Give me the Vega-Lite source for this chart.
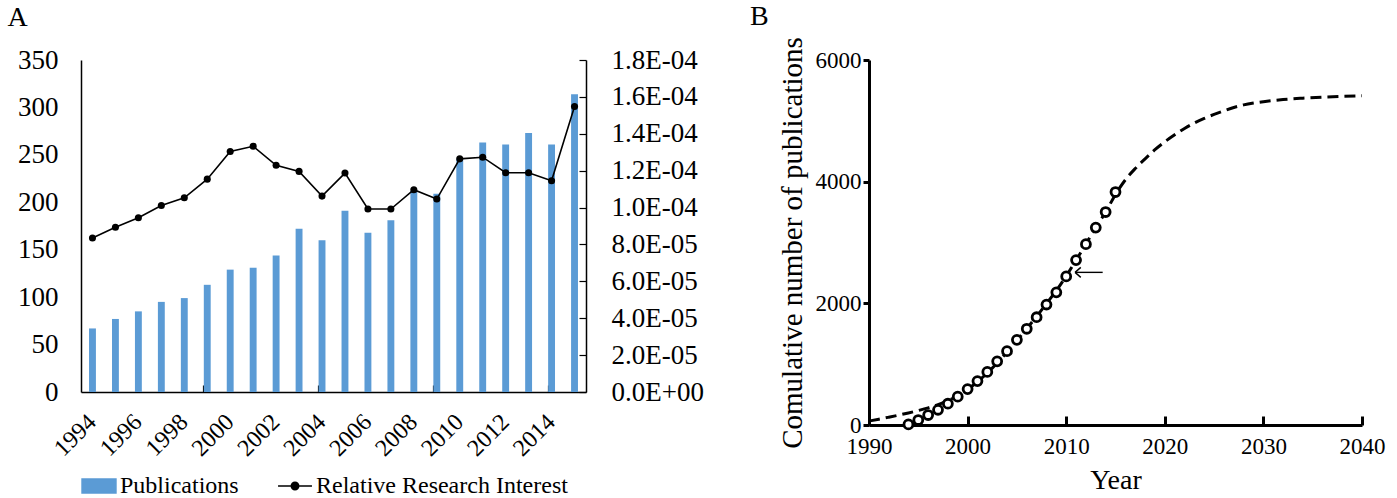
{
  "$schema": "https://vega.github.io/schema/vega-lite/v6.json",
  "padding": {"left": 7, "top": 2, "right": 5, "bottom": 0},
  "spacing": 46,
  "config": {
    "font": "Liberation Serif",
    "view": {"stroke": null},
    "axis": {"grid": false, "domainColor": "black", "tickColor": "black", "labelColor": "black", "titleColor": "black", "titleFontWeight": "normal"},
    "title": {"fontWeight": "normal", "color": "black"}
  },
  "hconcat": [
    {
      "width": 505,
      "height": 332,
      "title": {"text": "A", "anchor": "start", "frame": "bounds", "fontSize": 28, "dx": -10, "offset": 14},
      "data": {"values": [
        {"year": 1994, "pubs": 67, "rri": 0.0000835},
        {"year": 1995, "pubs": 77, "rri": 0.0000893},
        {"year": 1996, "pubs": 85, "rri": 0.0000945},
        {"year": 1997, "pubs": 95, "rri": 0.0001011},
        {"year": 1998, "pubs": 99, "rri": 0.0001053},
        {"year": 1999, "pubs": 113, "rri": 0.0001154},
        {"year": 2000, "pubs": 129, "rri": 0.0001304},
        {"year": 2001, "pubs": 131, "rri": 0.0001332},
        {"year": 2002, "pubs": 144, "rri": 0.0001229},
        {"year": 2003, "pubs": 172, "rri": 0.0001196},
        {"year": 2004, "pubs": 160, "rri": 0.0001062},
        {"year": 2005, "pubs": 191, "rri": 0.0001187},
        {"year": 2006, "pubs": 168, "rri": 0.0000992},
        {"year": 2007, "pubs": 181, "rri": 0.0000992},
        {"year": 2008, "pubs": 212, "rri": 0.0001097},
        {"year": 2009, "pubs": 209, "rri": 0.0001046},
        {"year": 2010, "pubs": 246, "rri": 0.0001264},
        {"year": 2011, "pubs": 263, "rri": 0.0001273},
        {"year": 2012, "pubs": 261, "rri": 0.0001189},
        {"year": 2013, "pubs": 273, "rri": 0.0001189},
        {"year": 2014, "pubs": 261, "rri": 0.0001145},
        {"year": 2015, "pubs": 314, "rri": 0.0001548}
      ]},
      "layer": [
        {
          "mark": {"type": "bar"},
          "encoding": {
            "x": {
              "field": "year", "type": "ordinal",
              "scale": {"paddingInner": 0.7, "paddingOuter": 0.35},
              "axis": {
                "title": null, "bandPosition": 0, "labelOffset": 0,
                "labelAngle": -45, "labelAlign": "right", "labelBaseline": "middle",
                "labelExpr": "datum.value % 2 == 0 ? datum.label : ''",
                "labelOverlap": false, "labelFontSize": 24, "labelPadding": 33,
                "tickSize": -7, "tickWidth": 1.2,
                "tickColor": {"condition": {"test": "datum.value > 1994 && (datum.value - 1994) % 5 == 0", "value": "black"}, "value": "transparent"},
                "domainWidth": 1.5
              }
            },
            "y": {
              "field": "pubs", "type": "quantitative",
              "scale": {"domain": [0, 350]},
              "axis": {"title": null, "values": [0, 50, 100, 150, 200, 250, 300, 350], "ticks": false, "labelPadding": 23, "labelFontSize": 27, "domainWidth": 1.5}
            },
            "color": {
              "datum": "Publications",
              "scale": {"domain": ["Publications", "Relative Research Interest"], "range": ["#5B9BD5", "black"]},
              "legend": {
                "title": null, "orient": "bottom", "direction": "horizontal",
                "labelFontSize": 24, "labelColor": "black", "labelLimit": 0, "symbolSize": 1150, "labelOffset": 3, "columnPadding": 36, "offset": -26,
                "encode": {
                  "symbols": {"update": {
                    "shape": {"signal": "datum.value == 'Publications' ? 'M-1,-0.42H1V0.42H-1Z' : 'M-1,0H1M-0.22,0A0.22,0.22 0 1,1 0.22,0A0.22,0.22 0 1,1 -0.22,0Z'"},
                    "fill": {"signal": "datum.value == 'Publications' ? '#5B9BD5' : 'black'"},
                    "stroke": {"signal": "datum.value == 'Publications' ? 'transparent' : 'black'"},
                    "strokeWidth": {"value": 1.5},
                    "opacity": {"value": 1},
                    "fillOpacity": {"value": 1}
                  }}
                }
              }
            }
          }
        },
        {
          "mark": {"type": "line", "strokeWidth": 1.6, "point": {"filled": true, "size": 50}},
          "encoding": {
            "x": {"field": "year", "type": "ordinal"},
            "y": {
              "field": "rri", "type": "quantitative",
              "scale": {"domain": [0, 0.00018]},
              "axis": {
                "title": null, "orient": "right",
                "values": [0, 0.00002, 0.00004, 0.00006, 0.00008, 0.0001, 0.00012, 0.00014, 0.00016, 0.00018],
                "labelExpr": "datum.value == 0 ? '0.0E+00' : format(datum.value / pow(10, floor(log(datum.value) / LN10 + 1e-9)), '.1f') + 'E-' + format(-floor(log(datum.value) / LN10 + 1e-9), '02d')",
                "tickSize": -7, "tickWidth": 1.2, "labelPadding": 32, "labelFontSize": 27, "domainWidth": 1.5
              }
            },
            "color": {"datum": "Relative Research Interest"}
          }
        }
      ],
      "resolve": {"scale": {"y": "independent"}}
    },
    {
      "width": 493,
      "height": 365,
      "title": {"text": "B", "anchor": "start", "frame": "bounds", "fontSize": 28, "dx": -28, "offset": 6},
      "layer": [
        {
          "data": {"values": [
            {"year": 1990, "cum": 65}, {"year": 1991, "cum": 95}, {"year": 1992, "cum": 128}, {"year": 1993, "cum": 162},
            {"year": 1994, "cum": 198}, {"year": 1995, "cum": 238}, {"year": 1996, "cum": 282}, {"year": 1997, "cum": 335},
            {"year": 1998, "cum": 400}, {"year": 1999, "cum": 482}, {"year": 2000, "cum": 585}, {"year": 2001, "cum": 710},
            {"year": 2002, "cum": 855}, {"year": 2003, "cum": 1020}, {"year": 2004, "cum": 1200}, {"year": 2005, "cum": 1390},
            {"year": 2006, "cum": 1585}, {"year": 2007, "cum": 1785}, {"year": 2008, "cum": 1995}, {"year": 2009, "cum": 2210},
            {"year": 2010, "cum": 2450}, {"year": 2011, "cum": 2710}, {"year": 2012, "cum": 2975}, {"year": 2013, "cum": 3245},
            {"year": 2014, "cum": 3500}, {"year": 2015, "cum": 3790}, {"year": 2016, "cum": 4030}, {"year": 2017, "cum": 4215},
            {"year": 2018, "cum": 4375}, {"year": 2019, "cum": 4525}, {"year": 2020, "cum": 4655}, {"year": 2021, "cum": 4770},
            {"year": 2022, "cum": 4875}, {"year": 2023, "cum": 4965}, {"year": 2024, "cum": 5040}, {"year": 2025, "cum": 5105},
            {"year": 2026, "cum": 5165}, {"year": 2027, "cum": 5220}, {"year": 2028, "cum": 5262}, {"year": 2029, "cum": 5292},
            {"year": 2030, "cum": 5315}, {"year": 2032, "cum": 5350}, {"year": 2034, "cum": 5372}, {"year": 2036, "cum": 5390},
            {"year": 2038, "cum": 5402}, {"year": 2040, "cum": 5411}
          ]},
          "mark": {"type": "line", "color": "black", "strokeWidth": 3, "strokeDash": [11, 6], "interpolate": "monotone"},
          "encoding": {
            "x": {
              "field": "year", "type": "quantitative",
              "scale": {"domain": [1990, 2040], "nice": false, "zero": false},
              "axis": {"title": "Year", "values": [1990, 2000, 2010, 2020, 2030, 2040], "format": "d", "labelFlush": false,
                       "tickSize": -9, "tickWidth": 3, "domainWidth": 3, "labelFontSize": 23, "labelPadding": 19,
                       "titleFontSize": 28, "titlePadding": 8}
            },
            "y": {
              "field": "cum", "type": "quantitative",
              "scale": {"domain": [0, 6000], "nice": false},
              "axis": {"title": "Comulative number of publications", "values": [0, 2000, 4000, 6000], "format": "d",
                       "tickSize": 6, "tickWidth": 3, "domainWidth": 3, "labelFontSize": 23, "labelPadding": 2,
                       "titleFontSize": 29, "titlePadding": 8}
            }
          }
        },
        {
          "data": {"values": [
            {"year": 1994, "cum": 10}, {"year": 1995, "cum": 82}, {"year": 1996, "cum": 164}, {"year": 1997, "cum": 250},
            {"year": 1998, "cum": 350}, {"year": 1999, "cum": 466}, {"year": 2000, "cum": 590}, {"year": 2001, "cum": 722},
            {"year": 2002, "cum": 873}, {"year": 2003, "cum": 1047}, {"year": 2004, "cum": 1214}, {"year": 2005, "cum": 1400},
            {"year": 2006, "cum": 1582}, {"year": 2007, "cum": 1772}, {"year": 2008, "cum": 1980}, {"year": 2009, "cum": 2181},
            {"year": 2010, "cum": 2443}, {"year": 2011, "cum": 2711}, {"year": 2012, "cum": 2973}, {"year": 2013, "cum": 3245},
            {"year": 2014, "cum": 3501}, {"year": 2015, "cum": 3830}
          ]},
          "mark": {"type": "point", "shape": "circle", "fill": "white", "stroke": "black", "strokeWidth": 2.8, "size": 80, "opacity": 1, "fillOpacity": 1},
          "encoding": {
            "x": {"field": "year", "type": "quantitative"},
            "y": {"field": "cum", "type": "quantitative"}
          }
        },
        {
          "data": {"values": [
            {"x1": 2013.7, "y1": 2509, "x2": 2010.9, "y2": 2509},
            {"x1": 2010.9, "y1": 2509, "x2": 2011.48, "y2": 2591},
            {"x1": 2010.9, "y1": 2509, "x2": 2011.48, "y2": 2427}
          ]},
          "mark": {"type": "rule", "color": "black", "strokeWidth": 1.4},
          "encoding": {
            "x": {"field": "x1", "type": "quantitative"},
            "x2": {"field": "x2"},
            "y": {"field": "y1", "type": "quantitative"},
            "y2": {"field": "y2"}
          }
        }
      ]
    }
  ]
}
